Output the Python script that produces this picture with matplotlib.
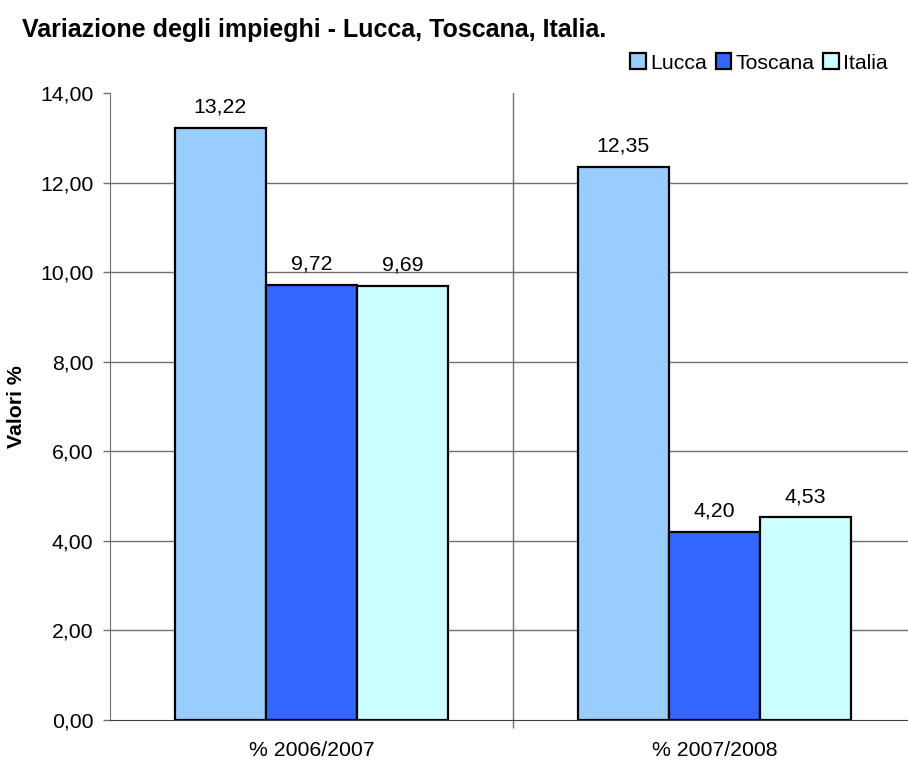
import numpy as np
import matplotlib
matplotlib.use('Agg')
import matplotlib.pyplot as plt
from matplotlib.patches import Patch

categories = ['% 2006/2007', '% 2007/2008']
series = ['Lucca', 'Toscana', 'Italia']
lucca = [13.22, 12.35]
toscana = [9.72, 4.20]
italia = [9.69, 4.53]
colors = ['#99CCFF', '#3366FF', '#CCFFFF']
yticks = [0, 2, 4, 6, 8, 10, 12, 14]

plt.rcParams['font.family'] = ['Liberation Sans', 'DejaVu Sans']
fs = 15.3
grey = '#707070'

def fmt(v):
  return ('%.2f' % v).replace('.', ',')

fig = plt.figure(figsize=(9.08, 7.6), dpi=100)
ax = fig.add_axes([110/908, 40/760, 806/908, 627/760])

x = np.arange(len(categories))
w = 0.226
values = [lucca, toscana, italia]
for i, (vals, c) in enumerate(zip(values, colors)):
  bars = ax.bar(x + (i - 1) * w, vals, w, color=c, edgecolor='black', linewidth=1.6, zorder=3)
  for b, v in zip(bars, vals):
    ax.annotate(fmt(v), (b.get_x() + b.get_width() / 2, v), xytext=(0, 8),
                textcoords='offset points', ha='center', va='bottom', fontsize=fs)

ax.set_xlim(-0.5, 1.5)
ax.set_ylim(0, 14)
ax.set_yticks(yticks)
ax.set_yticklabels([fmt(v) for v in yticks], fontsize=fs)
ax.set_xticks(x)
ax.set_xticklabels(categories, fontsize=fs)
ax.set_xticks([0.5], minor=True)
ax.tick_params(axis='x', which='major', length=0, pad=15)
ax.tick_params(axis='x', which='minor', length=6, color=grey, width=1)
ax.tick_params(axis='y', length=5, color=grey, width=1, pad=7)

for yv in yticks[1:-1]:
  ax.axhline(yv, color=grey, linewidth=1, zorder=1)
ax.axvline(0.5, color=grey, linewidth=1, zorder=1)

for s in ['top', 'right']:
  ax.spines[s].set_visible(False)
ax.spines['left'].set_color(grey)
ax.spines['bottom'].set_color('#404040')
ax.spines['bottom'].set_zorder(4)

ax.set_ylabel('Valori %', fontsize=fs, fontweight='bold', labelpad=10)

fig.text(22/908, 1 - 30/760, 'Variazione degli impieghi - Lucca, Toscana, Italia.',
         fontsize=18, fontweight='bold', va='center', ha='left')

handles = [Patch(facecolor=c, edgecolor='black', linewidth=1.6) for c in colors]
fig.legend(handles, series, loc='center right', bbox_to_anchor=(888/908, 1 - 63/760),
           ncol=3, frameon=False, fontsize=fs, handlelength=0.75, handleheight=0.75,
           handletextpad=0.2, columnspacing=0.4, borderpad=0, borderaxespad=0)

fig.savefig('out.png', dpi=100)
